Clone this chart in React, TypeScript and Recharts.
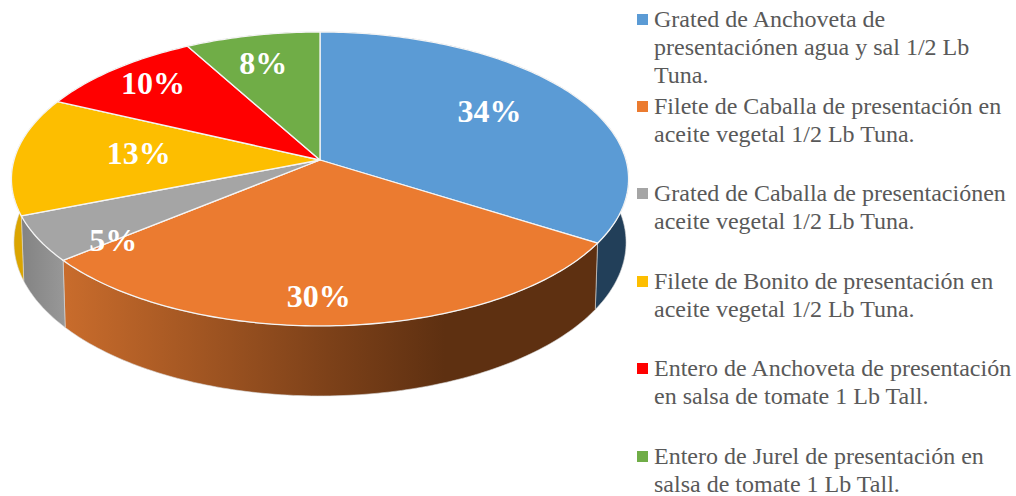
import React from "react";
import { PieChart, Pie, Legend } from "recharts";

const categories = [
  "Grated de Anchoveta de presentaciónen agua y sal 1/2 Lb Tuna.",
  "Filete de Caballa de presentación en aceite vegetal 1/2 Lb Tuna.",
  "Grated de Caballa de presentaciónen aceite vegetal 1/2 Lb Tuna.",
  "Filete de Bonito de presentación en aceite vegetal 1/2 Lb Tuna.",
  "Entero de Anchoveta de presentación en salsa de tomate 1 Lb Tall.",
  "Entero de Jurel de presentación en salsa de tomate 1 Lb Tall.",
];
const values = [34, 30, 5, 13, 10, 8];

// Styling and layout, separate from the data
const colors = ["#5B9BD5", "#EB7B30", "#A5A5A5", "#FDBE00", "#FF0000", "#70AD47"];
const wallFills = ["#223F59", "url(#wallOrange)", "url(#wallGray)", "#DBA500", "#A00000", "#4A7A2C"];
const legendLineBreaks = [
  ["Grated de Anchoveta de", "presentaciónen agua y sal 1/2 Lb", "Tuna."],
  ["Filete de Caballa de presentación en", "aceite vegetal 1/2 Lb Tuna."],
  ["Grated de Caballa de presentaciónen", "aceite vegetal 1/2 Lb Tuna."],
  ["Filete de Bonito de presentación en", "aceite vegetal 1/2 Lb Tuna."],
  ["Entero de Anchoveta de presentación", "en salsa de tomate 1 Lb Tall."],
  ["Entero de Jurel de presentación en", "salsa de tomate 1 Lb Tall."],
];
const legendTops = [5, 92, 179, 267, 354, 442];
const labelNudges = [[2, -6], [-15, 34], [-28, 30], [17, -4], [-30, -16], [-11, -13]];

const RADIUS = 306;
const PERSPECTIVE = -0.129;
const TILT = 144.5 / RADIUS;
const BOTTOM_X = 303.5 / RADIUS;
const BOTTOM_Y = 151 / RADIUS;
const BOTTOM_DROP = 62.6;

const tableData = categories.map((name, i) => ({
  name,
  value: values[i],
  fill: colors[i],
  wallFill: wallFills[i],
}));

// Sector angle (recharts degrees) to a point on the tilted disc
function project(cx: number, cy: number, r: number, angle: number, f = 1, bottom = false) {
  const a = (angle * Math.PI) / 180;
  const u = Math.cos(a);
  const v = -Math.sin(a);
  const den = 1 + PERSPECTIVE * f * v;
  if (bottom) {
    return {
      x: cx + (r * BOTTOM_X * f * u) / den,
      y: cy + BOTTOM_DROP + (r * BOTTOM_Y * f * v) / den,
    };
  }
  return { x: cx + (r * f * u) / den, y: cy + (r * TILT * f * v) / den };
}

function arc(cx: number, cy: number, r: number, from: number, to: number, bottom: boolean) {
  const n = Math.max(2, Math.ceil(Math.abs(to - from)));
  const pts: string[] = [];
  for (let i = 0; i <= n; i++) {
    const p = project(cx, cy, r, from + ((to - from) * i) / n, 1, bottom);
    pts.push(`${p.x.toFixed(2)} ${p.y.toFixed(2)}`);
  }
  return pts;
}

function TopSlice(props: any) {
  const { cx, cy, outerRadius, startAngle, endAngle, fill } = props;
  const pts = arc(cx, cy, outerRadius, startAngle, endAngle, false);
  return (
    <path
      d={`M ${cx} ${cy} L ${pts.join(" L ")} Z`}
      fill={fill}
      stroke="#F4F4F4"
      strokeWidth={1.3}
      strokeLinejoin="round"
    />
  );
}

function WallSlice(props: any) {
  const { cx, cy, outerRadius, startAngle, endAngle } = props;
  const wallFill = props.wallFill ?? props.payload?.wallFill;
  const top = arc(cx, cy, outerRadius, startAngle, endAngle, false);
  const bot = arc(cx, cy, outerRadius, endAngle, startAngle, true);
  return (
    <path
      d={`M ${top.join(" L ")} L ${bot.join(" L ")} Z`}
      fill={wallFill}
      stroke="#D9D9D9"
      strokeWidth={0.6}
      strokeLinejoin="round"
    />
  );
}

function SliceLabel(props: any) {
  const { cx, cy, outerRadius, midAngle, value, index } = props;
  const p = project(cx, cy, outerRadius, midAngle, 0.65);
  const nudge = labelNudges[index] ?? [0, 0];
  return (
    <text
      x={p.x + nudge[0]}
      y={p.y + nudge[1]}
      fill="#FFFFFF"
      fontFamily="'Liberation Serif', serif"
      fontWeight={700}
      fontSize={32}
      textAnchor="middle"
      dominantBaseline="central"
    >
      {`${value}%`}
    </text>
  );
}

function LegendBlock() {
  return (
    <div style={{ position: "relative", width: 1016, height: 496 }}>
      {legendLineBreaks.map((lines, i) => (
        <div key={categories[i]} style={{ position: "absolute", left: 637, top: legendTops[i] }}>
          <div
            style={{
              position: "absolute",
              left: 0,
              top: 9,
              width: 11,
              height: 11,
              background: colors[i],
            }}
          />
          <div
            style={{
              marginLeft: 17,
              fontFamily: "'Liberation Serif', serif",
              fontSize: 24,
              lineHeight: "28px",
              color: "#595959",
              whiteSpace: "nowrap",
              textAlign: "left",
            }}
          >
            {lines.map((line) => (
              <div key={line}>{line}</div>
            ))}
          </div>
        </div>
      ))}
    </div>
  );
}

export default function App() {
  return (
    <div style={{ position: "absolute", left: 0, top: 0, width: 1016, height: 496, background: "#fff" }}>
      <PieChart width={1016} height={496} margin={{ top: 0, right: 0, bottom: 0, left: 0 }}>
        <defs>
          <linearGradient id="wallOrange" gradientUnits="userSpaceOnUse" x1="63" y1="0" x2="593" y2="0">
            <stop offset="0" stopColor="#C96C2C" />
            <stop offset="0.5" stopColor="#7D4119" />
            <stop offset="0.72" stopColor="#5E3011" />
            <stop offset="1" stopColor="#5E3011" />
          </linearGradient>
          <linearGradient id="wallGray" gradientUnits="userSpaceOnUse" x1="22" y1="0" x2="67" y2="0">
            <stop offset="0" stopColor="#838383" />
            <stop offset="1" stopColor="#999999" />
          </linearGradient>
        </defs>
        <Pie
          data={tableData}
          dataKey="value"
          nameKey="name"
          cx={320}
          cy={160}
          innerRadius={0}
          outerRadius={RADIUS}
          startAngle={90}
          endAngle={-270}
          paddingAngle={0}
          legendType="none"
          isAnimationActive={false}
          shape={WallSlice}
          label={false}
          labelLine={false}
        />
        <Pie
          data={tableData}
          dataKey="value"
          nameKey="name"
          cx={320}
          cy={160}
          innerRadius={0}
          outerRadius={RADIUS}
          startAngle={90}
          endAngle={-270}
          paddingAngle={0}
          isAnimationActive={false}
          shape={TopSlice}
          label={SliceLabel}
          labelLine={false}
        />
        <Legend
          content={() => <LegendBlock />}
          wrapperStyle={{ position: "absolute", left: 0, top: 0, width: 1016, height: 496, pointerEvents: "none" }}
        />
      </PieChart>
    </div>
  );
}
